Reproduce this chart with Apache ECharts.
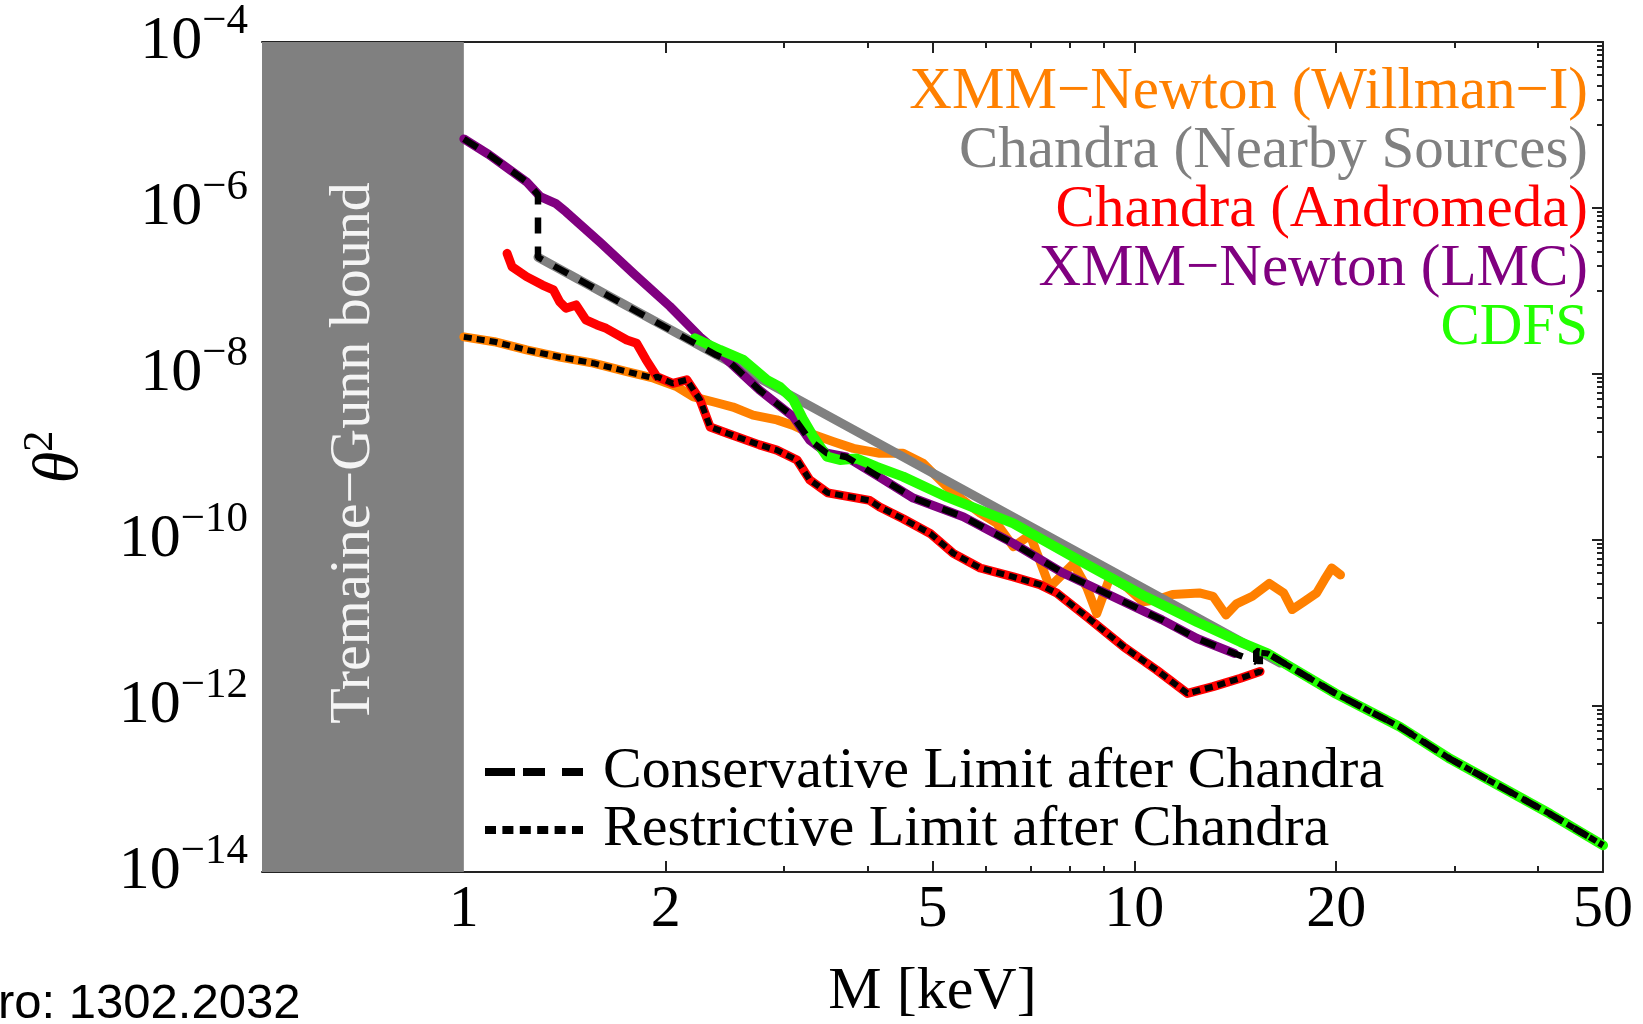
<!DOCTYPE html>
<html lang="en">
<head>
<meta charset="UTF-8">
<title>sterile neutrino mixing bounds</title>
<script src="https://cdn.jsdelivr.net/npm/echarts@6.0.0/dist/echarts.min.js"></script>
<style>
  html, body { margin: 0; padding: 0; background: #fff; }
  #main { width: 1643px; height: 1024px; }
</style>
</head>
<body>
<div id="main"></div>
<script type="text/javascript">
// axis ticks
var xLabelTicks = [1, 2, 5, 10, 20, 50];
var xMajorTicks = [2, 5, 10, 20];
var xMinorTicks = [3, 4, 6, 7, 8, 9, 30, 40];
var yLabelTicks = [1e-4, 1e-6, 1e-8, 1e-10, 1e-12, 1e-14];
var yMinorTicks = [];
[-5, -7, -9, -11, -13].forEach(function (n) {
    for (var k = 1; k <= 9; k++) yMinorTicks.push(k * Math.pow(10, n));
});

// M [keV] and theta^2
var willmanM = [1.00, 1.11, 1.24, 1.39, 1.56, 1.75, 1.92, 2.08, 2.20, 2.36, 2.52, 2.70, 2.93, 3.10, 3.28, 3.56, 3.81, 4.17, 4.52, 4.84, 5.25, 5.56, 5.89, 6.23, 6.60, 6.99, 7.48, 8.11, 8.49, 8.79, 9.20, 9.74, 10.3, 10.8, 11.4, 12.5, 13.1, 13.7, 14.2, 15.0, 15.9, 16.7, 17.2, 17.9, 18.7, 19.2, 19.7, 20.3];
var willmanT = [2.8e-8, 2.45e-8, 1.95e-8, 1.6e-8, 1.35e-8, 1.07e-8, 8.9e-9, 7.0e-9, 5.3e-9, 4.6e-9, 4.0e-9, 3.2e-9, 2.8e-9, 2.4e-9, 1.93e-9, 1.53e-9, 1.27e-9, 1.11e-9, 1.11e-9, 8.4e-10, 4.4e-10, 3.0e-10, 2.1e-10, 1.6e-10, 8.3e-11, 1.15e-10, 2.7e-11, 5.2e-11, 2.7e-11, 1.3e-11, 3.6e-11, 2.7e-11, 1.8e-11, 1.9e-11, 2.2e-11, 2.3e-11, 2.1e-11, 1.25e-11, 1.7e-11, 2.1e-11, 3.0e-11, 2.3e-11, 1.45e-11, 1.8e-11, 2.3e-11, 3.3e-11, 4.6e-11, 3.8e-11];

var nearbyM = [1.29, 16.5];
var nearbyT = [2.55e-7, 3.3e-12];

var andromedaM = [1.16, 1.18, 1.24, 1.31, 1.36, 1.39, 1.42, 1.47, 1.52, 1.58, 1.63, 1.75, 1.81, 1.87, 1.94, 2.05, 2.15, 2.25, 2.33, 2.47, 2.76, 2.93, 3.14, 3.28, 3.49, 4.03, 4.17, 4.52, 4.96, 5.37, 5.89, 6.60, 7.23, 7.66, 8.49, 9.63, 10.8, 12.0, 13.1, 14.4, 15.4];
var andromedaT = [2.84e-7, 1.96e-7, 1.49e-7, 1.18e-7, 1.03e-7, 7.4e-8, 6.2e-8, 6.8e-8, 4.5e-8, 3.9e-8, 3.55e-8, 2.57e-8, 2.34e-8, 1.48e-8, 9.3e-9, 7.7e-9, 8.5e-9, 4.9e-9, 2.3e-9, 1.93e-9, 1.4e-9, 1.21e-9, 9.2e-10, 5.3e-10, 3.7e-10, 3.0e-10, 2.5e-10, 1.8e-10, 1.2e-10, 6.9e-11, 4.6e-11, 3.6e-11, 2.9e-11, 2.3e-11, 1.19e-11, 5.2e-12, 2.7e-12, 1.42e-12, 1.71e-12, 2.16e-12, 2.6e-12];

var lmcM = [1.00, 1.09, 1.24, 1.30, 1.37, 1.42, 1.60, 1.79, 2.03, 2.25, 2.47, 2.76, 3.10, 3.28, 3.48, 3.72, 4.17, 4.68, 5.56, 6.60, 7.83, 9.30, 11.0, 12.4, 14.1];
var lmcT = [6.8e-6, 4.4e-6, 2.07e-6, 1.37e-6, 1.14e-6, 9.0e-7, 3.8e-7, 1.63e-7, 6.5e-8, 2.8e-8, 1.48e-8, 6.4e-9, 3.06e-9, 1.6e-9, 1.11e-9, 1.0e-9, 5.7e-10, 3.2e-10, 1.9e-10, 9.1e-11, 4.0e-11, 2.07e-11, 1.09e-11, 6.5e-12, 4.3e-12];

var cdfsM = [2.21, 2.41, 2.61, 2.83, 2.96, 3.10, 3.21, 3.32, 3.48, 3.64, 3.85, 4.13, 4.52, 5.25, 6.60, 8.30, 10.4, 12.4, 14.4, 15.8, 20.0, 24.9, 29.6, 41.7, 50];
var cdfsT = [2.69e-8, 1.95e-8, 1.48e-8, 8.5e-9, 7.0e-9, 4.9e-9, 2.8e-9, 1.76e-9, 1.01e-9, 9.2e-10, 9.6e-10, 7.6e-10, 5.8e-10, 3.3e-10, 1.59e-10, 5.6e-11, 2.07e-11, 1.03e-11, 5.9e-12, 4.3e-12, 1.4e-12, 5.6e-13, 2.3e-13, 5.0e-14, 2.1e-14];

var consM = [1.00, 1.09, 1.24, 1.29, 1.29, 2.38, 2.47, 2.76, 3.10, 3.28, 3.48, 3.72, 4.17, 4.68, 5.56, 6.60, 7.83, 9.30, 11.0, 12.4, 14.1, 15.2, 15.2, 15.8, 20.0, 24.9, 29.6, 41.7, 50];
var consT = [6.8e-6, 4.4e-6, 2.07e-6, 1.45e-6, 2.55e-7, 1.69e-8, 1.48e-8, 6.4e-9, 3.06e-9, 1.6e-9, 1.11e-9, 1.0e-9, 5.7e-10, 3.2e-10, 1.9e-10, 9.1e-11, 4.0e-11, 2.07e-11, 1.09e-11, 6.5e-12, 4.3e-12, 3.4e-12, 4.6e-12, 4.3e-12, 1.4e-12, 5.6e-13, 2.3e-13, 5.0e-14, 2.1e-14];

var restM = [1.00, 1.11, 1.24, 1.39, 1.56, 1.75, 1.92, 1.94, 2.05, 2.15, 2.25, 2.33, 2.47, 2.76, 2.93, 3.14, 3.28, 3.49, 4.03, 4.17, 4.52, 4.96, 5.37, 5.89, 6.60, 7.23, 7.66, 8.49, 9.63, 10.8, 12.0, 13.1, 14.4, 15.4, 15.4, 15.8, 20.0, 24.9, 29.6, 41.7, 50];
var restT = [2.8e-8, 2.45e-8, 1.95e-8, 1.6e-8, 1.35e-8, 1.07e-8, 8.9e-9, 9.3e-9, 7.7e-9, 8.5e-9, 4.9e-9, 2.3e-9, 1.93e-9, 1.4e-9, 1.21e-9, 9.2e-10, 5.3e-10, 3.7e-10, 3.0e-10, 2.5e-10, 1.8e-10, 1.2e-10, 6.9e-11, 4.6e-11, 3.6e-11, 2.9e-11, 2.3e-11, 1.19e-11, 5.2e-12, 2.7e-12, 1.42e-12, 1.71e-12, 2.16e-12, 2.6e-12, 4.4e-12, 4.3e-12, 1.4e-12, 5.6e-13, 2.3e-13, 5.0e-14, 2.1e-14];

var FONT = 'Liberation Serif';
var xMin = 0.5, xMax = 50, yMin = 1e-14, yMax = 1e-4;

function pairs(ms, ts) {
    return ms.map(function (m, i) { return [m, ts[i]]; });
}
function powLabel(v) {
    var e = Math.round(Math.log10(v));
    return '{b|10}{s|\u2212' + Math.abs(e) + '}';
}
function colorLine(name, color, ms, ts, w) {
    return {
        name: name, type: 'line', data: pairs(ms, ts),
        symbol: 'none', showSymbol: false, silent: true,
        lineStyle: { color: color, width: w || 9, join: 'round', cap: 'round' },
        itemStyle: { color: color }
    };
}
function xAx(pos, ticks, len, extra) {
    var a = {
        type: 'log', logBase: 10, min: xMin, max: xMax, position: pos,
        axisLine: { show: false, onZero: false },
        axisTick: { show: true, inside: true, length: len, customValues: ticks, lineStyle: { color: '#222', width: 2 } },
        axisLabel: { show: false },
        splitLine: { show: false }
    };
    return Object.assign(a, extra || {});
}
function yAx(pos, ticks, len, extra) {
    var a = {
        type: 'log', logBase: 10, min: yMin, max: yMax, position: pos,
        axisLine: { show: false, onZero: false },
        axisTick: { show: true, inside: true, length: len, customValues: ticks, lineStyle: { color: '#222', width: 2 } },
        axisLabel: { show: false },
        splitLine: { show: false }
    };
    return Object.assign(a, extra || {});
}

var frameLine = { show: true, onZero: false, lineStyle: { color: '#222', width: 2 } };
var dashIcon = 'path://M0 0h30v8h-30z M38 0h22v8h-22z M77 0h21v8h-21z';
var dotIcon = 'path://M0 0h11v8h-11z M17.4 0h11v8h-11z M34.8 0h11v8h-11z M52.2 0h11v8h-11z M69.6 0h11v8h-11z M87 0h11v8h-11z';

var orange = colorLine('XMM\u2212Newton (Willman\u2212I)', '#ff8000', willmanM, willmanT);
orange.markArea = {
    silent: true,
    itemStyle: { color: '#808080', opacity: 1 },
    label: {
        show: true, position: 'inside', rotate: 90, offset: [4, -9],
        color: '#f4f4f4', fontSize: 58, fontFamily: FONT
    },
    data: [[{ name: 'Tremaine\u2212Gunn bound', xAxis: xMin, yAxis: yMax }, { xAxis: 1, yAxis: yMin }]]
};

var myChart = echarts.init(document.getElementById('main'));
var option = {
    animation: false,
    backgroundColor: '#fff',
    textStyle: { fontFamily: FONT },
    title: {
        text: 'ro: 1302.2032', left: -2, top: 980, padding: 0,
        textStyle: { fontFamily: 'Liberation Sans', fontWeight: 'normal', fontSize: 49, color: '#000' }
    },
    grid: { left: 262, right: 40, top: 42, bottom: 152, containLabel: false, outerBoundsMode: 'none' },
    legend: [{
        orient: 'vertical', right: 50, top: 63, padding: 0, itemGap: 0,
        itemWidth: 0, itemHeight: 10, icon: 'none', align: 'right', selectedMode: false,
        textStyle: { fontSize: 59, lineHeight: 58, fontFamily: FONT },
        data: [
            { name: 'XMM\u2212Newton (Willman\u2212I)', textStyle: { color: '#ff8000' } },
            { name: 'Chandra (Nearby Sources)', textStyle: { color: '#808080' } },
            { name: 'Chandra (Andromeda)', textStyle: { color: '#ff0000' } },
            { name: 'XMM\u2212Newton (LMC)', textStyle: { color: '#800080' } },
            { name: 'CDFS', textStyle: { color: '#22ff00' } }
        ]
    }, {
        orient: 'vertical', left: 485, top: 743, padding: 0, itemGap: 0,
        itemWidth: 98, itemHeight: 8, align: 'left', selectedMode: false,
        itemStyle: { color: '#000', borderWidth: 0 },
        textStyle: { fontSize: 58, lineHeight: 58, color: '#000', fontFamily: FONT, padding: [0, 0, 0, 15] },
        data: [
            { name: 'Conservative Limit after Chandra', icon: dashIcon },
            { name: 'Restrictive Limit after Chandra', icon: dotIcon }
        ]
    }],
    xAxis: [
        xAx('bottom', xMajorTicks, 11, {
            axisLine: frameLine,
            name: 'M [keV]', nameLocation: 'middle', nameGap: 90, nameMoveOverlap: false,
            nameTextStyle: { fontSize: 60, color: '#000', fontFamily: FONT },
            axisLabel: {
                show: true, customValues: xLabelTicks, fontSize: 60, color: '#000', margin: 8, fontFamily: FONT,
                formatter: function (v) { return String(Math.round(v)); }
            }
        }),
        xAx('bottom', xMinorTicks, 6),
        xAx('top', xMajorTicks, 11, { axisLine: frameLine }),
        xAx('top', xMinorTicks, 6)
    ],
    yAxis: [
        yAx('left', [], 0, {
            axisTick: { show: false },
            name: '{t|\u03b8}{s|2}', nameLocation: 'middle', nameGap: 170, nameRotate: 90, nameMoveOverlap: false,
            nameTextStyle: {
                rich: {
                    t: { fontSize: 64, fontStyle: 'italic', color: '#000', fontFamily: FONT, verticalAlign: 'bottom', lineHeight: 64 },
                    s: { fontSize: 42, color: '#000', fontFamily: FONT, verticalAlign: 'bottom', lineHeight: 42, padding: [0, 0, 30, 0] }
                }
            },
            axisLabel: {
                show: true, customValues: yLabelTicks, margin: 14, formatter: powLabel,
                rich: {
                    b: { fontSize: 62, color: '#000', fontFamily: FONT, verticalAlign: 'bottom', lineHeight: 62 },
                    s: { fontSize: 43, color: '#000', fontFamily: FONT, verticalAlign: 'bottom', lineHeight: 43, padding: [0, 0, 30, 0] }
                }
            }
        }),
        yAx('right', yLabelTicks, 11, { axisLine: frameLine }),
        yAx('right', yMinorTicks, 6)
    ],
    series: [
        orange,
        colorLine('Chandra (Andromeda)', '#ff0000', andromedaM, andromedaT),
        colorLine('Chandra (Nearby Sources)', '#808080', nearbyM, nearbyT),
        colorLine('XMM\u2212Newton (LMC)', '#800080', lmcM, lmcT),
        colorLine('CDFS', '#22ff00', cdfsM, cdfsT, 10),
        {
            name: 'Conservative Limit after Chandra', type: 'line', data: pairs(consM, consT),
            symbol: 'none', showSymbol: false, silent: true,
            itemStyle: { color: '#000' },
            lineStyle: { color: '#000', width: 6.5, type: [16, 13], cap: 'butt' }
        },
        {
            name: 'Restrictive Limit after Chandra', type: 'line', data: pairs(restM, restT),
            symbol: 'none', showSymbol: false, silent: true,
            itemStyle: { color: '#000' },
            lineStyle: { color: '#000', width: 6, type: [8, 5], cap: 'butt' }
        }
    ]
};
myChart.setOption(option);
</script>
</body>
</html>
